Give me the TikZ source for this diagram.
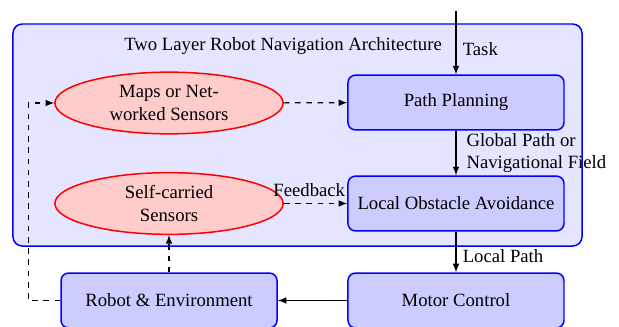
\documentclass[tikz,border=0pt]{standalone}
\usepackage{fontspec}
\setmainfont{Liberation Serif}
\usepackage{tikz}
\usetikzlibrary{shapes.geometric}

\tikzset{
    block/.style = {draw = blue, thick, fill = blue!20, rounded corners = 4pt,
                    minimum width = 4.06cm, minimum height = 1.03cm},
    sensor/.style = {ellipse, draw = red, thick, fill = red!20, align = center,
                     inner sep = 0pt, minimum width = 4.29cm, minimum height = 1.16cm},
    flow/.style = {->, >=latex, semithick},
    feed/.style = {->, >=latex, semithick, dashed}
}

\begin{document}
\begin{tikzpicture}
        \useasboundingbox (0,0) rectangle (11.635,-6.128);
        % outer layer
        \draw[draw = blue, thick, fill = blue!10, rounded corners = 5pt] (0.244,-0.451) rectangle (10.94,-4.624);
        \node (title) at (5.32,-0.865) {Two Layer Robot Navigation Architecture};
        % blocks
        \node[block] (plan) at (8.571,-1.927) {Path Planning};
        \node[block] (local) at (8.571,-3.825) {Local Obstacle Avoidance};
        \node[block] (motor) at (8.571,-5.648) {Motor Control};
        \node[block] (robot) at (3.177,-5.648) {Robot \& Environment};
        \node[sensor] (maps) at (3.177,-1.936) {Maps or Net-\\worked Sensors};
        \node[sensor] (self) at (3.177,-3.825) {Self-carried\\Sensors};
        \coordinate (task) at (8.571,-0.207);
        % connections
        \draw[flow] (task) -- (plan) node[pos = 0.6, right] {Task};
        \draw[flow] (plan) -- (local) node[midway, right, xshift = 2pt, align = left] {Global Path or\\Navigational Field};
        \draw[flow] (local) -- (motor) node[pos = 0.6, right] {Local Path};
        \draw[flow] (motor) -- (robot);
        \draw[feed] (maps) -- (plan);
        \draw[feed] (self) -- (local) node[pos = 0.4, above] {Feedback};
        \draw[feed] (robot) -- (self);
        \draw[feed] (robot.west) -- ++(-0.6,0) |- (maps.west);
    \end{tikzpicture}
\end{document}
